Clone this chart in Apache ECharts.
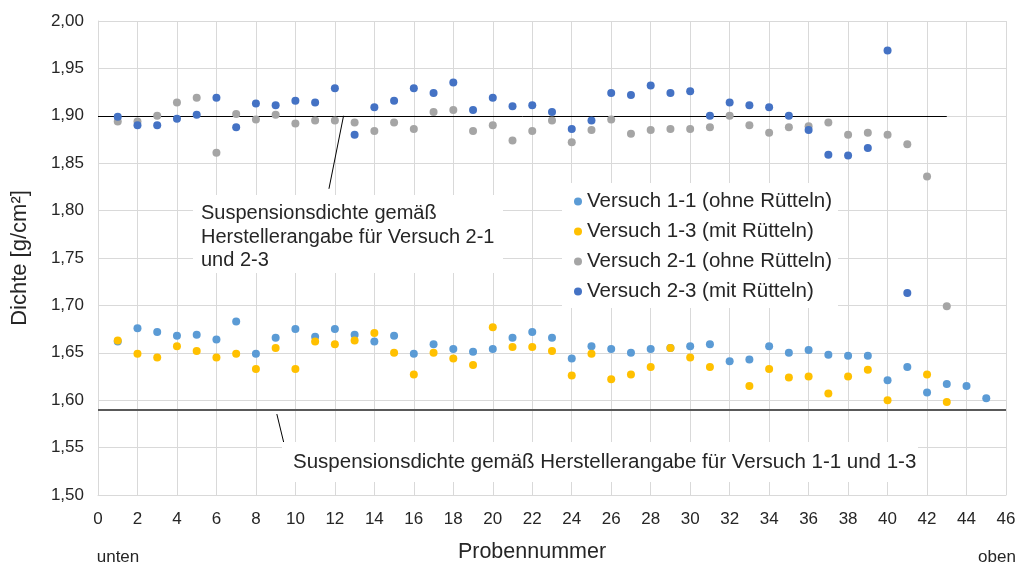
<!DOCTYPE html>
<html><head><meta charset="utf-8">
<script src="https://cdn.jsdelivr.net/npm/echarts@6/dist/echarts.min.js"></script>
<style>html,body{margin:0;padding:0;background:#fff}#c{width:1024px;height:570px}</style>
</head><body><div id="c"></div>
<script>
const seriesNames = ['Versuch 1-1 (ohne Rütteln)', 'Versuch 1-3 (mit Rütteln)', 'Versuch 2-1 (ohne Rütteln)', 'Versuch 2-3 (mit Rütteln)'];
const v11 = [1.662,1.676,1.672,1.668,1.669,1.664,1.683,1.649,1.666,1.675,1.667,1.675,1.669,1.662,1.668,1.649,1.659,1.654,1.651,1.654,1.666,1.672,1.666,1.644,1.657,1.654,1.650,1.654,1.655,1.657,1.659,1.641,1.643,1.657,1.650,1.653,1.648,1.647,1.647,1.621,1.635,1.608,1.617,1.615,1.602];
const v13 = [1.663,1.649,1.645,1.657,1.652,1.645,1.649,1.633,1.655,1.633,1.662,1.659,1.663,1.671,1.650,1.627,1.650,1.644,1.637,1.677,1.656,1.656,1.652,1.626,1.649,1.622,1.627,1.635,1.655,1.645,1.635,null,1.615,1.633,1.624,1.625,1.607,1.625,1.632,1.600,null,1.627,1.598];
const v21 = [1.894,1.894,1.900,1.914,1.919,1.861,1.902,1.896,1.901,1.892,1.895,1.895,1.893,1.884,1.893,1.886,1.904,1.906,1.884,1.890,1.874,1.884,1.895,1.872,1.885,1.896,1.881,1.885,1.886,1.886,1.888,1.900,1.890,1.882,1.888,1.889,1.893,1.880,1.882,1.880,1.870,1.836,1.699];
const v23 = [1.899,1.890,1.890,1.897,1.901,1.919,1.888,1.913,1.911,1.916,1.914,1.929,1.880,1.909,1.916,1.929,1.924,1.935,1.906,1.919,1.910,1.911,1.904,1.886,1.895,1.924,1.922,1.932,1.924,1.926,1.900,1.914,1.911,1.909,1.900,1.885,1.859,1.858,1.866,1.969,1.713];
const colors = ['#5B9BD5', '#FFC000', '#A5A5A5', '#4472C4'];
const refDensity21 = 1.90;   // Suspensionsdichte Versuch 2-1 / 2-3
const refDensity11 = 1.59;   // Suspensionsdichte Versuch 1-1 / 1-3
const refEnd21 = 43;
const xMin = 0, xMax = 46, xStep = 2;
const yMin = 1.5, yMax = 2.0, yStep = 0.05;
const note21 = 'Suspensionsdichte gemäß\nHerstellerangabe für Versuch 2-1\nund 2-3';
const note11 = 'Suspensionsdichte gemäß Herstellerangabe für Versuch 1-1 und 1-3';

function toPairs(arr){ const out=[]; arr.forEach((v,i)=>{ if(v!==null) out.push([i+1,v]); }); return out; }
const allVals = [v11, v13, v21, v23];
const FONT = 'Liberation Sans, Arial, sans-serif';

const chart = echarts.init(document.getElementById('c'));
const series = allVals.map((arr, i) => ({
  name: seriesNames[i], type: 'scatter', data: toPairs(arr), symbolSize: 8,
  itemStyle: { color: colors[i], opacity: 1 }, z: 3 + i
}));
series[0].markLine = {
  silent: true, symbol: 'none', label: { show: false }, animation: false, z: 1,
  data: [
    [{ coord: [xMin, refDensity21], lineStyle: { color: '#000', width: 1, type: 'solid' } }, { coord: [refEnd21, refDensity21] }],
    [{ coord: [xMin, refDensity11], lineStyle: { color: '#595959', width: 2, type: 'solid' } }, { coord: [xMax, refDensity11] }],
    [{ coord: [12.44, refDensity21], lineStyle: { color: '#000', width: 1, type: 'solid' } }, { coord: [11.70, 1.823] }],
    [{ coord: [9.06, 1.5854], lineStyle: { color: '#000', width: 1, type: 'solid' } }, { coord: [9.42, 1.5545] }]
  ]
};

chart.setOption({
  animation: false,
  backgroundColor: '#fff',
  grid: { left: 98, right: 18, top: 21, bottom: 75, containLabel: false },
  xAxis: {
    type: 'value', min: xMin, max: xMax, interval: xStep,
    axisLine: { lineStyle: { color: '#d9d9d9' } }, axisTick: { show: false },
    axisLabel: { fontFamily: FONT, fontSize: 17, color: '#262626', margin: 16 },
    splitLine: { show: true, lineStyle: { color: '#d9d9d9', width: 1 } }
  },
  yAxis: {
    type: 'value', min: yMin, max: yMax, interval: yStep,
    name: 'Dichte [g/cm²]', nameLocation: 'middle', nameGap: 67, nameRotate: 90,
    nameTextStyle: { fontFamily: FONT, fontSize: 22, color: '#262626' },
    axisLine: { show: true, lineStyle: { color: '#d9d9d9' } }, axisTick: { show: false },
    axisLabel: { fontFamily: FONT, fontSize: 17, color: '#262626', margin: 14,
      formatter: v => v.toFixed(2).replace('.', ',') },
    splitLine: { show: true, lineStyle: { color: '#d9d9d9', width: 1 } }
  },
  legend: {
    orient: 'vertical', left: 562, top: 183, backgroundColor: '#fff',
    padding: [8, 6, 6, 12], itemGap: 9, itemWidth: 8, itemHeight: 8, icon: 'circle',
    textStyle: { fontFamily: FONT, fontSize: 20.5, color: '#262626', lineHeight: 20 },
    data: seriesNames
  },
  graphic: [
    { type: 'rect', shape: { x: 193, y: 195, width: 310, height: 78 }, style: { fill: '#fff' }, z: 50 },
    { type: 'text', x: 201, y: 202, z: 51, style: { text: note21, font: '20px ' + FONT, fill: '#262626', lineHeight: 23.5 } },
    { type: 'rect', shape: { x: 282, y: 442, width: 636, height: 40 }, style: { fill: '#fff' }, z: 50 },
    { type: 'text', x: 293, y: 462, z: 51, style: { text: note11, font: '20.5px ' + FONT, fill: '#262626', verticalAlign: 'middle' } },
    { type: 'text', x: 118, y: 557, z: 51, style: { text: 'unten', font: '17px ' + FONT, fill: '#262626', align: 'center', verticalAlign: 'middle' } },
    { type: 'text', x: 532, y: 552, z: 51, style: { text: 'Probennummer', font: '21.5px ' + FONT, fill: '#262626', align: 'center', verticalAlign: 'middle' } },
    { type: 'text', x: 997, y: 557, z: 51, style: { text: 'oben', font: '17px ' + FONT, fill: '#262626', align: 'center', verticalAlign: 'middle' } }
  ],
  series: series
});
</script></body></html>
